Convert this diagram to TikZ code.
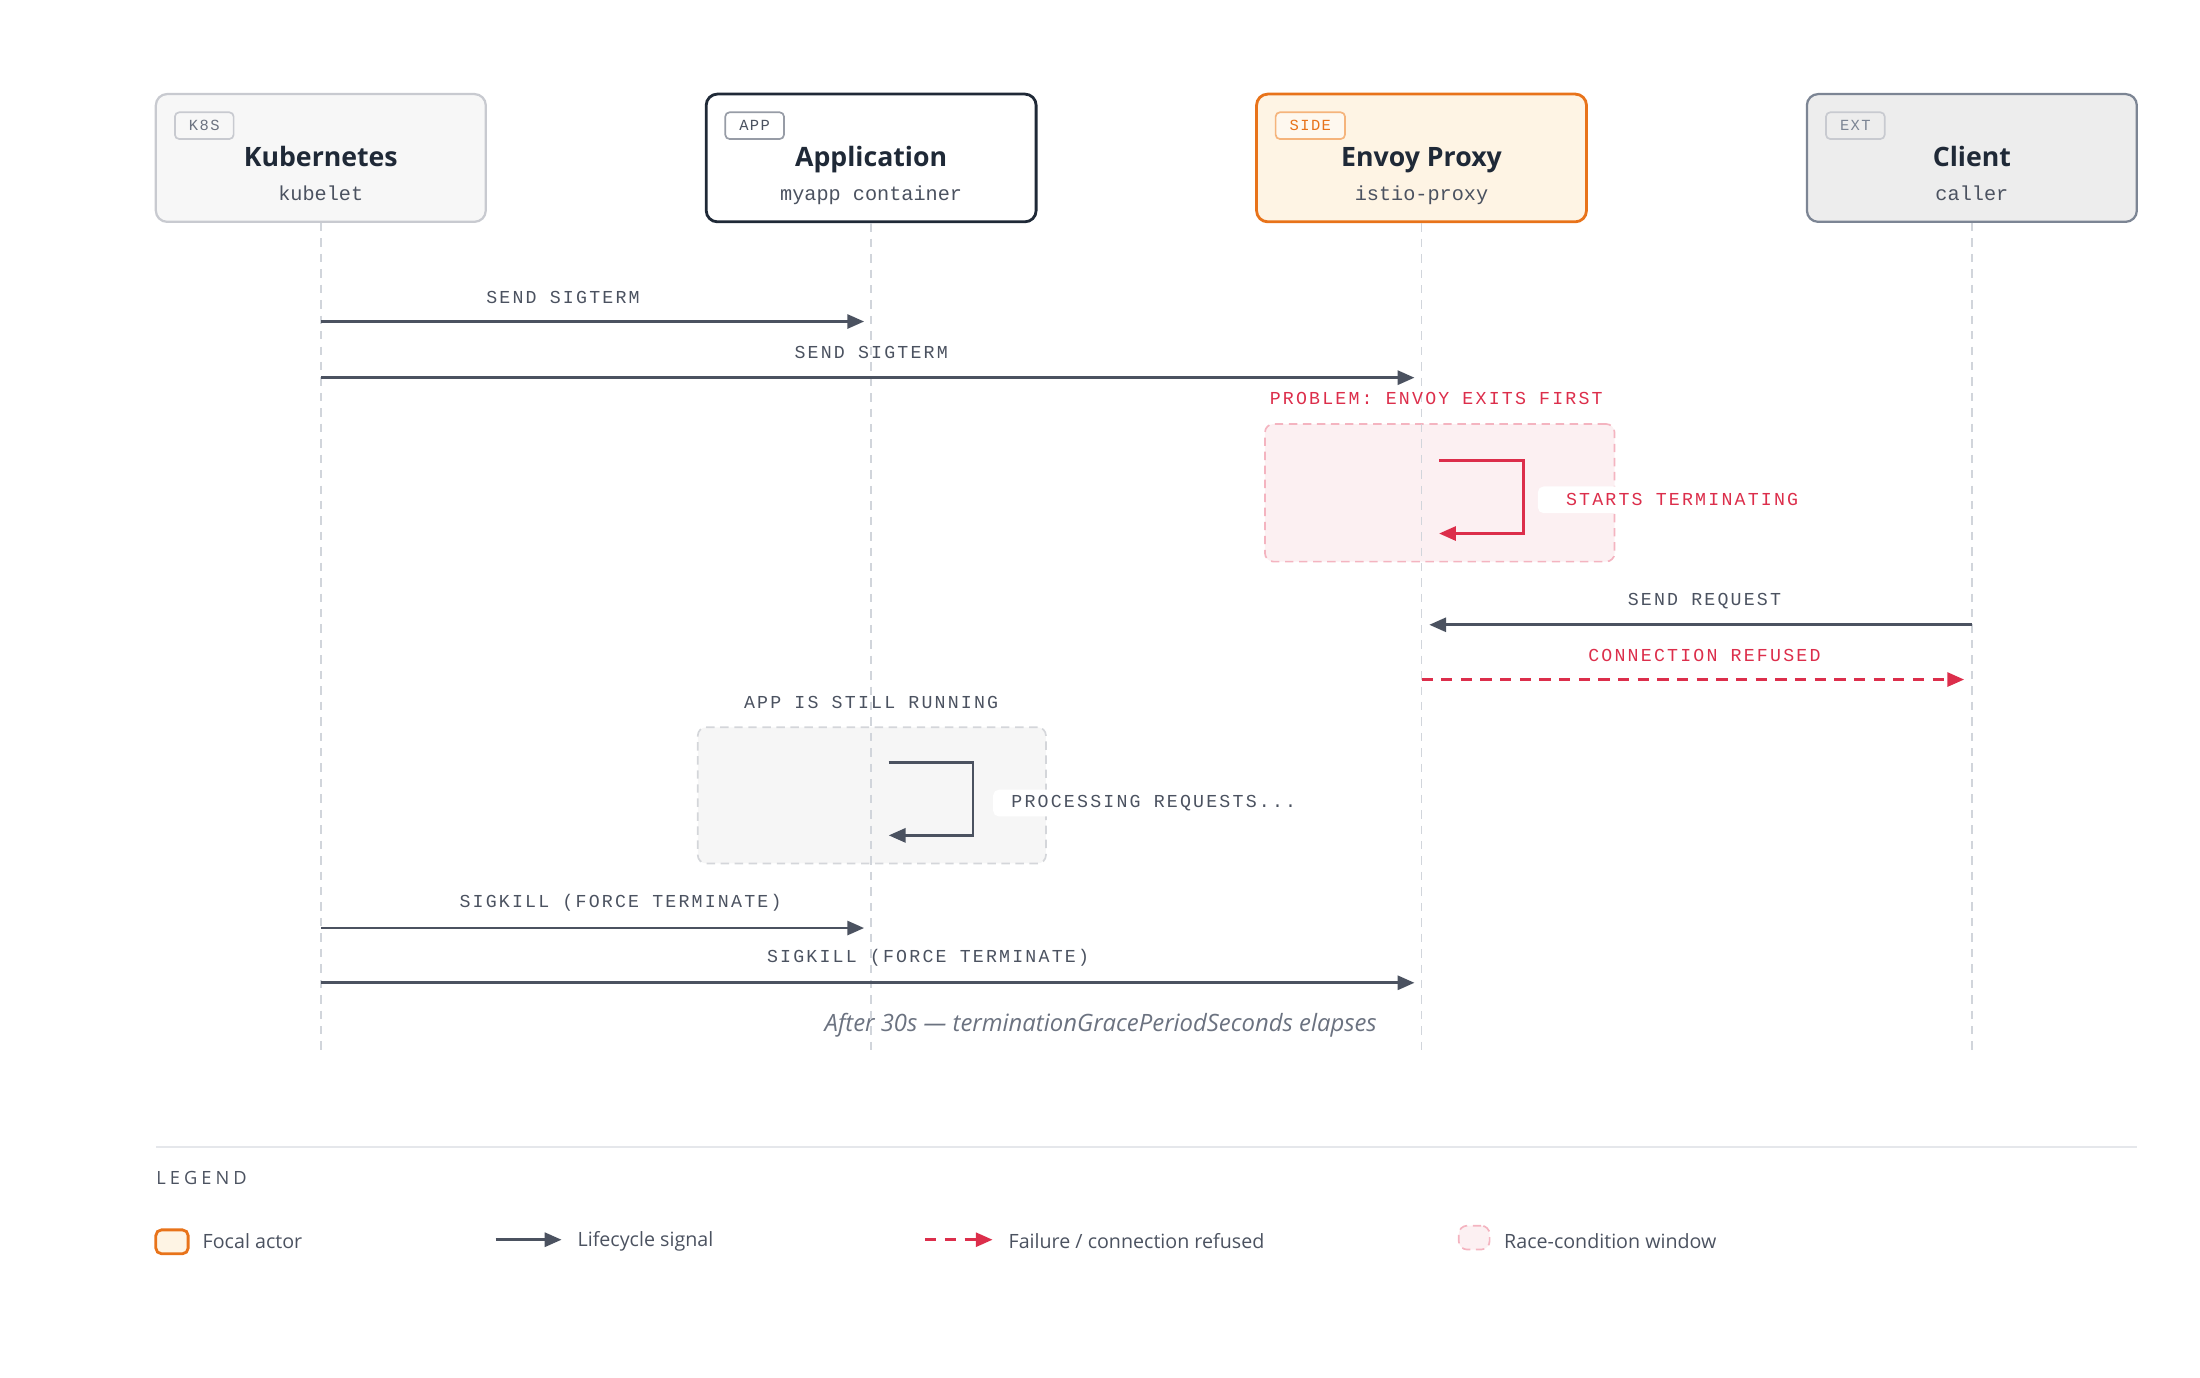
\documentclass[tikz,border=0pt]{standalone}
\usepackage{fontspec}
\setmainfont{Open Sans}
\newfontfamily\subfont{Liberation Mono}
\newfontfamily\msgfont[LetterSpace=12]{Liberation Mono}
\newfontfamily\tagfont[LetterSpace=9]{Liberation Mono}
\newfontfamily\legfont[LetterSpace=22]{Open Sans}
\usepackage{tikz}
\usetikzlibrary{arrows.meta,positioning,calc}
\definecolor{ink}{HTML}{1F2937}
\definecolor{sigslate}{HTML}{4B5260}
\definecolor{muted}{HTML}{6B7280}
\definecolor{lifegray}{HTML}{D1D5DB}
\definecolor{errred}{HTML}{DC2E4B}
\definecolor{focal}{HTML}{E8731A}
\definecolor{focalbg}{HTML}{FEF4E4}
\definecolor{focaltag}{HTML}{F5B47C}
\definecolor{racebg}{HTML}{FCF0F2}
\definecolor{raceline}{HTML}{F4B4C0}
\definecolor{k8sbg}{HTML}{F7F7F7}
\definecolor{k8sline}{HTML}{C8CAD0}
\definecolor{extbg}{HTML}{EDEDED}
\definecolor{extline}{HTML}{7C8594}
\definecolor{runbg}{HTML}{F6F6F6}
\definecolor{runline}{HTML}{D4D6DA}
\definecolor{sepline}{HTML}{E5E7EB}

\begin{document}
\begin{tikzpicture}
[x=0.5pt,y=-0.5pt,>={Triangle[length=6pt,width=5pt]},
actor/.style = {rounded corners=4pt, minimum width=117.5pt, minimum height=45.5pt, line width=0.8pt},
tagbox/.style = {anchor=west, draw, rounded corners=1.5pt, line width=0.6pt, minimum height=9.5pt, inner xsep=5pt, inner ysep=0pt, font=\tagfont\fontsize{5.5}{6}\selectfont},
ttl/.style = {anchor=base, font=\bfseries\fontsize{9.5}{12}\selectfont, text=ink},
sub/.style = {anchor=base, font=\subfont\fontsize{7.2}{8}\selectfont, text=sigslate},
msg/.style = {font=\msgfont\fontsize{6.5}{8}\selectfont, text=sigslate, inner sep=0pt},
life/.style = {draw=lifegray, line width=0.5pt, dash pattern=on 3pt off 2.5pt},
sig/.style = {->, color=sigslate, line width=1pt},
fail/.style = {->, color=errred, line width=1pt, dash pattern=on 4pt off 3pt},
window/.style = {rounded corners=3pt, line width=0.6pt, dash pattern=on 3pt off 2pt},
note/.style = {anchor=west, fill=white, rounded corners=2pt, minimum height=9.5pt, inner ysep=0pt},
leg/.style = {anchor=west, inner sep=0pt, font=\fontsize{7}{8}\selectfont, text=sigslate},
]
\useasboundingbox (0,0) rectangle (1567,981.5);

\node (K) at (228.5,112.5) [actor, draw=k8sline, fill=k8sbg] {};
\node (A) at (620.5,112.5) [actor, draw=ink, fill=white, line width=1pt] {};
\node (E) at (1012.5,112.5) [actor, draw=focal, fill=focalbg, line width=1pt] {};
\node (C) at (1404.5,112.5) [actor, draw=extline, fill=extbg] {};

\node (Kg) at (124,89.5) [tagbox, draw=k8sline, text=muted] {K8S};
\node (Ag) at (516,89.5) [tagbox, draw=muted!70, text=sigslate] {APP};
\node (Eg) at (908,89.5) [tagbox, draw=focaltag, fill=focalbg!60!white, text=focal] {SIDE};
\node (Cg) at (1300,89.5) [tagbox, draw=k8sline, text=extline] {EXT};

\node (Kt) at (228.5,118.5) [ttl] {Kubernetes};
\node (At) at (620.5,118.5) [ttl] {Application};
\node (Et) at (1012.5,118.5) [ttl] {Envoy Proxy};
\node (Ct) at (1404.5,118.5) [ttl] {Client};
\node (Ks) at (228.5,142.5) [sub] {kubelet};
\node (As) at (620.5,142.5) [sub] {myapp container};
\node (Es) at (1012.5,142.5) [sub] {istio-proxy};
\node (Cs) at (1404.5,142.5) [sub] {caller};

\node (race) at (1025.5,351) [window, fill=racebg, draw=raceline, minimum width=124.5pt, minimum height=49pt] {};
\node (run) at (621,566.5) [window, fill=runbg, draw=runline, minimum width=124pt, minimum height=48.5pt] {};

\coordinate (Kz) at (228.5,750);
\coordinate (Az) at (620.5,750);
\coordinate (Ez) at (1012.5,750);
\coordinate (Cz) at (1404.5,750);
\draw[life] (K) -- (Kz);
\draw[life] (A) -- (Az);
\draw[life] (E) -- (Ez);
\draw[life] (C) -- (Cz);

\coordinate (k1) at (228.5,229);
\coordinate (a1) at (620.5,229);
\coordinate (k2) at (228.5,269);
\coordinate (e2) at (1012.5,269);
\coordinate (c3) at (1404.5,445);
\coordinate (e3) at (1012.5,445);
\coordinate (e4) at (1012.5,484);
\coordinate (c4) at (1404.5,484);
\coordinate (k5) at (228.5,661);
\coordinate (a5) at (620.5,661);
\coordinate (k6) at (228.5,700);
\coordinate (e6) at (1012.5,700);

\draw[sig, shorten >=2.5pt] (k1) -- (a1);
\node (m1) at (401,212) [msg] {SEND SIGTERM};
\draw[sig, shorten >=2.5pt] (k2) -- (e2);
\node (m2) at (620.5,251) [msg] {SEND SIGTERM};

\node (prob) at (904,284) [msg, anchor=west, text=errred] {PROBLEM: ENVOY EXITS FIRST};
\coordinate (t1) at (1025,328);
\coordinate (t2) at (1025,380);
\draw[->, color=errred, line width=1pt] (t1) -- ++(60,0) -- ++(0,52) -- (t2);
\node (term) at (1095,356) [note, inner xsep=10pt] {\msgfont\fontsize{6.5}{8}\selectfont\color{errred}STARTS TERMINATING};

\draw[sig, shorten >=2.75pt] (c3) -- (e3);
\node (m3) at (1214,428) [msg] {SEND REQUEST};
\draw[fail, shorten >=2.75pt] (e4) -- (c4);
\node (m4) at (1214,467) [msg, text=errred] {CONNECTION REFUSED};

\node (still) at (620.5,500) [msg] {APP IS STILL RUNNING};
\coordinate (p1) at (633,543);
\coordinate (p2) at (633,595);
\draw[sig] (p1) -- ++(60,0) -- ++(0,52) -- (p2);
\node (proc) at (707,572) [note, inner xsep=6.5pt] {\msgfont\fontsize{6.5}{8}\selectfont\color{sigslate}PROCESSING REQUESTS...};

\draw[sig, shorten >=2.5pt] (k5) -- (a5);
\node (m5) at (442,643) [msg] {SIGKILL (FORCE TERMINATE)};
\draw[sig, shorten >=2.5pt] (k6) -- (e6);
\node (m6) at (661,682) [msg] {SIGKILL (FORCE TERMINATE)};
\node (grace) at (784,730) [font=\itshape\fontsize{8.5}{10}\selectfont, text=muted] {After 30s --- terminationGracePeriodSeconds elapses};

\coordinate (s1) at (111,817);
\coordinate (s2) at (1522,817);
\draw[draw=sepline, line width=0.8pt] (s1) -- (s2);
\node (legend) at (111,839) [anchor=west, inner sep=0pt, font=\legfont\fontsize{6.5}{8}\selectfont, text=sigslate] {LEGEND};

\node (lg1) at (122.5,884.5) [draw=focal, fill=focalbg, line width=1pt, rounded corners=2pt, minimum width=11.5pt, minimum height=8.5pt, inner sep=0pt] {};
\node (lt1) at (144,884) [leg] {Focal actor};
\coordinate (la) at (353,883);
\coordinate (lb) at (400,883);
\draw[sig] (la) -- (lb);
\node (lt2) at (411,884) [leg] {Lifecycle signal};
\coordinate (lc) at (659,883);
\coordinate (ld) at (707,883);
\draw[fail] (lc) -- (ld);
\node (lt3) at (718,884) [leg] {Failure / connection refused};
\node (lg4) at (1050,881.5) [window, fill=racebg, draw=raceline, minimum width=11pt, minimum height=8.5pt, inner sep=0pt] {};
\node (lt4) at (1071,884) [leg] {Race-condition window};
\end{tikzpicture}
\end{document}
